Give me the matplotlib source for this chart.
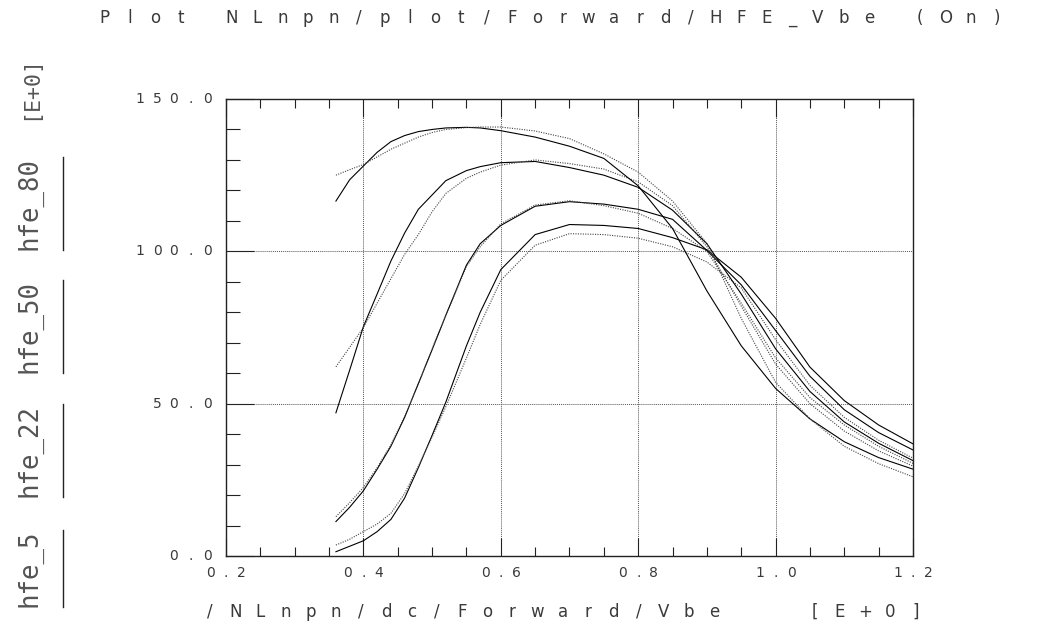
import numpy as np
import matplotlib.pyplot as plt
from matplotlib.lines import Line2D
from matplotlib.transforms import IdentityTransform, offset_copy

W, H = 1044, 624

# Vbe sweep (V)
vbe = [0.36, 0.38, 0.40, 0.42, 0.44, 0.46, 0.48, 0.50, 0.52, 0.55, 0.57, 0.60,
       0.65, 0.70, 0.75, 0.80, 0.85, 0.90, 0.95, 1.00, 1.05, 1.10, 1.15, 1.20]

# measured (solid) and simulated (dotted) hfe for each device
hfe5_meas = [1.4, 3.2, 5.0, 8.0, 12.0, 19.0, 29.0, 39.6, 50.5, 69.0, 80.0, 94.0,
             105.5, 108.8, 108.5, 107.5, 104.5, 100.5, 91.5, 78.0, 62.0, 51.0, 43.0, 36.8]
hfe5_sim = [3.6, 5.5, 8.0, 10.5, 14.0, 20.5, 29.5, 39.0, 49.0, 65.0, 76.0, 90.5,
            102.0, 105.8, 105.5, 104.3, 101.5, 96.5, 88.0, 71.0, 56.0, 45.5, 38.0, 32.1]
hfe22_meas = [11.3, 16.0, 21.4, 28.5, 36.0, 45.5, 56.6, 67.7, 79.0, 95.5, 102.5, 108.5,
              114.8, 116.3, 115.5, 113.8, 110.5, 100.3, 89.0, 74.0, 59.0, 48.0, 40.5, 34.8]
hfe22_sim = [12.9, 17.5, 22.5, 29.0, 36.5, 45.8, 56.5, 68.0, 79.0, 95.0, 101.5, 109.0,
             115.2, 116.6, 115.0, 112.5, 107.5, 100.0, 83.0, 65.0, 52.0, 43.0, 36.0, 30.4]
hfe50_meas = [47.0, 61.0, 75.3, 86.0, 96.8, 106.0, 113.8, 118.5, 123.2, 126.5, 127.8, 129.1,
              129.5, 127.5, 125.0, 121.0, 113.5, 102.5, 86.0, 68.0, 54.0, 44.0, 37.0, 31.3]
hfe50_sim = [62.1, 68.5, 75.0, 83.0, 91.0, 99.0, 105.5, 113.0, 119.0, 124.0, 126.0, 128.3,
             130.0, 128.8, 127.0, 122.8, 115.0, 101.5, 82.0, 63.0, 50.0, 41.0, 34.5, 29.5]
hfe80_meas = [116.5, 123.5, 128.0, 132.5, 136.0, 138.0, 139.3, 140.0, 140.5, 140.7, 140.5, 139.6,
              137.5, 134.5, 130.5, 121.5, 107.5, 87.0, 69.0, 55.0, 45.0, 37.5, 32.3, 28.5]
hfe80_sim = [125.0, 126.8, 128.5, 131.0, 133.5, 135.5, 137.5, 139.0, 140.0, 140.6, 140.8, 140.8,
             139.5, 137.0, 132.0, 126.0, 116.5, 102.6, 78.0, 57.0, 45.0, 36.0, 30.3, 26.0]

series_labels = ["hfe_5", "hfe_22", "hfe_50", "hfe_80"]
series_meas = [hfe5_meas, hfe22_meas, hfe50_meas, hfe80_meas]
series_sim = [hfe5_sim, hfe22_sim, hfe50_sim, hfe80_sim]

x_major = [0.2, 0.4, 0.6, 0.8, 1.0, 1.2]
y_major = [0.0, 50.0, 100.0, 150.0]

title = "Plot NLnpn/plot/Forward/HFE_Vbe (On)"
xlabel = "/NLnpn/dc/Forward/Vbe   [E+0]"
yunit = "[E+0]"

TXT = '#3a3a3a'
FONT = 'DejaVu Sans'

fig = plt.figure(figsize=(W / 100, H / 100), dpi=100)
ax = fig.add_axes([226 / W, (H - 556) / H, 687 / W, 457 / H])

for meas, sim in zip(series_meas, series_sim):
    ax.plot(vbe, meas, color='k', lw=0.8)
    ax.plot(vbe, sim, color='#444444', lw=0.8, ls=(0, (1, 1.2)))

ax.set_xlim(0.2, 1.2)
ax.set_ylim(0, 150)
ax.set_xticks(x_major)
ax.set_xticks(np.arange(0.2, 1.201, 0.05), minor=True)
ax.set_yticks(y_major)
ax.set_yticks(np.arange(0, 151, 10), minor=True)
ax.tick_params(axis='x', which='major', direction='in', length=13, width=0.8,
               top=True, bottom=True, labelbottom=False, color='#222222')
ax.tick_params(axis='x', which='minor', direction='in', length=6.5, width=0.8,
               top=True, bottom=True, color='#222222')
ax.tick_params(axis='y', which='major', direction='in', length=20, width=0.8,
               left=True, right=False, labelleft=False, color='#222222')
ax.tick_params(axis='y', which='minor', direction='in', length=10, width=0.8,
               left=True, right=False, color='#222222')
ax.grid(True, which='major', color='#555555', lw=0.7, ls=(0, (1, 1)))
ax.set_axisbelow(True)
for sp in ax.spines.values():
    sp.set_linewidth(1.0)
    sp.set_color('#222222')


def spaced(s, x, y, pitch, base, size, va='baseline'):
    # the plotter font has very wide letter spacing, so set glyphs one by one
    for i, ch in enumerate(s):
        if ch == ' ':
            continue
        tr = offset_copy(base, fig=fig, x=i * pitch, y=0, units='dots')
        fig.text(x, y, ch, transform=tr, ha='center', va=va, fontsize=size,
                 family=FONT, color=TXT)


# title and x label (pixel positions)
spaced(title, 104, H - 23, 25.5, IdentityTransform(), 12)
spaced(xlabel, 210, H - 617, 25.2, IdentityTransform(), 12)

# tick labels
for v in x_major:
    s = f"{v:.1f}"
    base = offset_copy(ax.get_xaxis_transform(), fig=fig,
                       x=-(len(s) - 1) / 2 * 15.5, y=-17, units='dots')
    spaced(s, v, 0, 15.5, base, 10, va='center')
for v in y_major:
    s = f"{v:.1f}"
    base = offset_copy(ax.get_yaxis_transform(), fig=fig,
                       x=-18 - (len(s) - 1) * 17, y=0, units='dots')
    spaced(s, 0, v, 17, base, 10, va='center')

# legend column on the left: rotated label plus a sample line
label_bottoms = [607, 497, 373, 250]
for lab, yb in zip(series_labels, label_bottoms):
    fig.text(36, H - yb, lab, transform=IdentityTransform(), rotation=90,
             rotation_mode='anchor', ha='left', va='baseline',
             fontsize=18.5, family='DejaVu Sans Mono', color='#555555')
    fig.add_artist(Line2D([63, 63], [H - yb, H - yb + len(lab) * 15.5],
                          transform=IdentityTransform(), color='#222222', lw=1.0))
fig.text(36, H - 120, yunit, transform=IdentityTransform(), rotation=90,
         rotation_mode='anchor', ha='left', va='baseline',
         fontsize=15.5, family='DejaVu Sans Mono', color='#555555')

fig.savefig('out.png', dpi=100)
